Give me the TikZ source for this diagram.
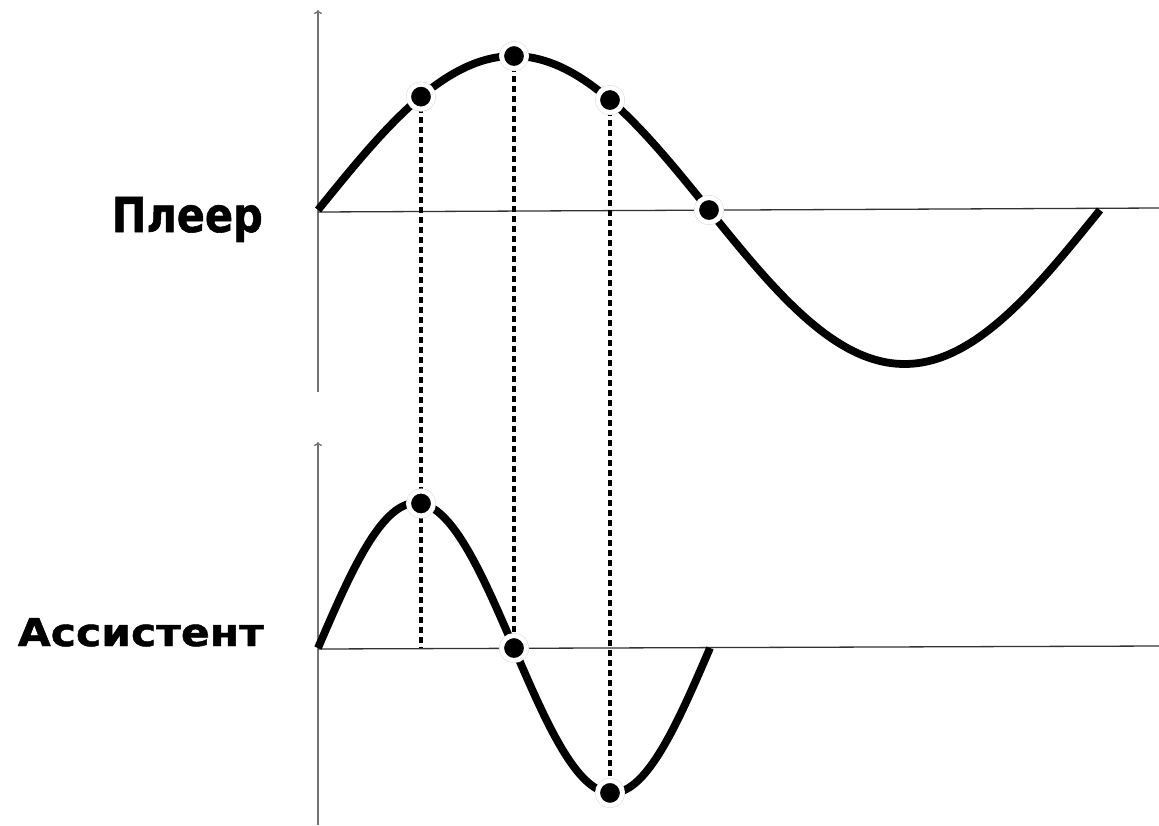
\documentclass[tikz,border=0pt]{standalone}
\usepackage{fontspec}
\usepackage{graphicx}
\setmainfont{DejaVu Sans}
\newfontfamily\lblfont{DejaVu Sans Bold}[FakeBold=1.2]
\usetikzlibrary{arrows.meta}
\begin{document}
\begin{tikzpicture}[x=1pt,y=-1pt,
  axis/.style={draw=black!55, line width=1.4pt, -{To[length=4pt,width=8pt]}},
  baseline/.style={draw=black!80, line width=1.3pt},
  wave/.style={line width=7.8pt, line cap=butt, line join=round},
  guide/.style={line width=3.2pt, dash pattern=on 6pt off 4pt},
  dot/.style={circle, inner sep=0pt, minimum size=24.5pt, fill=black, draw=white, line width=4.5pt, preaction={draw=black!14, line width=5.6pt}},
  lbl/.style={inner sep=0pt, anchor=base east, font=\lblfont}]
\useasboundingbox (0,0) rectangle (1159,825);
\fill[white] (0,0) rectangle (1159,825);
% axes
\draw[axis] (318,392) -- (318,10);
\draw[baseline] (318,212) -- (1159,208);
\draw[axis] (318,825) -- (318,442);
\draw[baseline] (318,649) -- (1159,646);
% waves
\draw[wave] plot[domain=318:1100, samples=160, smooth] (\x,{210-154*sin((\x-318)/782*360)});
\draw[wave] plot[domain=318:710, samples=100, smooth] (\x,{648-145*sin((\x-318)/392*360)});
% coordinates
\coordinate (b0) at (421,648);
\path (421,{210-154*sin((421-318)/782*360)}) coordinate (pa);
\path (514,{210-154*sin((514-318)/782*360)}) coordinate (pb);
\path (610,{210-154*sin((610-318)/782*360)}) coordinate (pc);
\path (709,{210-154*sin((709-318)/782*360)}) coordinate (pd);
\path (421,{648-145*sin((421-318)/392*360)}) coordinate (qa);
\path (514,{648-145*sin((514-318)/392*360)}) coordinate (qb);
\path (610,{648-145*sin((610-318)/392*360)}) coordinate (qc);
% guides
\draw[guide] (pa) -- (b0);
\draw[guide] (pb) -- (qb);
\draw[guide] (pc) -- (qc);
% dots
\node[dot] (d1) at (pa) {};
\node[dot] (d2) at (pb) {};
\node[dot] (d3) at (pc) {};
\node[dot] (d4) at (pd) {};
\node[dot] (e1) at (qa) {};
\node[dot] (e2) at (qb) {};
\node[dot] (e3) at (qc) {};
% labels
\node[lbl] (player) at (263,232) {\resizebox{151pt}{35pt}{Плеер}};
\node[lbl] (assistant) at (264,646) {\resizebox{246pt}{28pt}{Ассистент}};
\end{tikzpicture}
\end{document}
